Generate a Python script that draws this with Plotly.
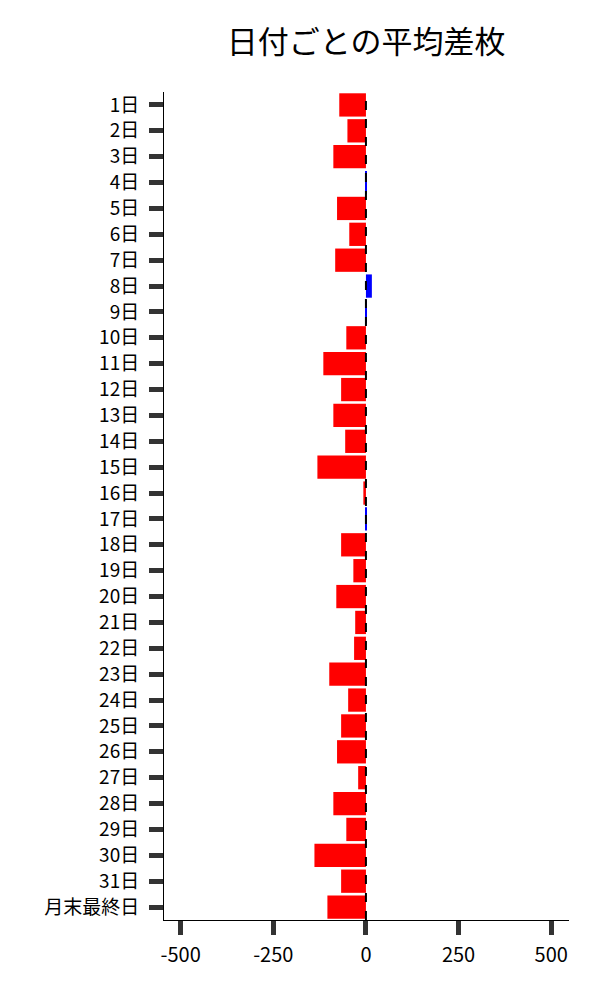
import plotly.graph_objects as go

days = [f'{i}日' for i in range(1, 32)] + ['月末最終日']
avg_diff = [-72, -50, -88, 2, -78, -45, -83, 16, 1, -53,
            -115, -67, -88, -56, -131, -7, 2, -67, -34, -80,
            -29, -32, -99, -48, -67, -78, -21, -88, -53, -139,
            -67, -104]
x_ticks = [-500, -250, 0, 250, 500]
x_tick_labels = ['-500', '-250', '0', '250', '500']

colors = ['#0000ff' if v > 0 else '#ff0000' for v in avg_diff]

fig = go.Figure()
fig.add_trace(go.Bar(
    x=avg_diff,
    y=days,
    orientation='h',
    marker=dict(color=colors, line=dict(width=0)),
))

fig.add_vline(x=0, line_dash='dash', line_color='black', line_width=2)

tick_style = dict(ticks='outside', ticklen=14, tickwidth=5, tickcolor='#333333',
                  showline=True, linecolor='black', linewidth=1,
                  showgrid=False, zeroline=False)

fig.update_layout(
    title=dict(text='日付ごとの平均差枚', x=0.605, xanchor='center',
               y=0.966, yanchor='middle',
               font=dict(size=31, color='black')),
    font=dict(family='Noto Sans CJK JP', size=19, color='black'),
    plot_bgcolor='white',
    paper_bgcolor='white',
    width=592, height=992,
    margin=dict(l=156, r=31, t=84, b=80),
    bargap=0.1,
    showlegend=False,
)
fig.update_xaxes(range=[-545, 548], tickvals=x_ticks, ticktext=x_tick_labels,
                 ticklabelstandoff=3, tickfont=dict(size=20), **tick_style)
fig.update_yaxes(autorange='reversed', ticklabelstandoff=6, **tick_style)

fig.write_html('out.html')
